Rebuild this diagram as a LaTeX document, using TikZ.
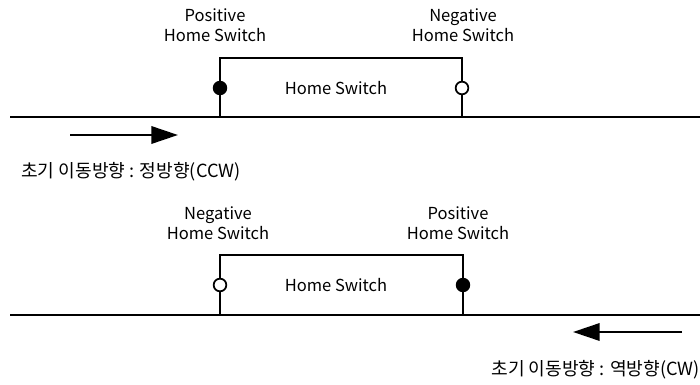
\documentclass[tikz,border=0pt]{standalone}
\usepackage{fontspec}
\setmainfont{Noto Sans CJK KR}
\usetikzlibrary{positioning, arrows.meta}

\begin{document}
\begin{tikzpicture}[x=0.75pt, y=-0.75pt,
  line/.style={line width=1.8pt},
  lbl/.style={align=center, font=\fontsize{12.4}{15}\selectfont, inner sep=0pt},
  dir/.style={font=\fontsize{13.6}{15}\selectfont, inner sep=0pt},
  on/.style={circle, draw, fill=black, line width=1.3pt, minimum size=9.5pt, inner sep=0pt},
  off/.style={circle, draw, fill=white, line width=1.3pt, minimum size=9.5pt, inner sep=0pt},
  arr/.style={line width=1.8pt, -{Triangle[length=20pt, width=13pt]}}]
\useasboundingbox (0,0) rectangle (700,385);
% upper: CCW
\coordinate (l1) at (10,117);
\coordinate (r1) at (700,117);
\coordinate (a1) at (220,117);
\coordinate (b1) at (462,117);
\draw[line] (l1) -- (r1);
\draw[line] (a1) -- (220,58) -- (462,58) -- (b1);
\node[on] (p1) at (220,88) {};
\node[off] (n1) at (462,88) {};
\node[lbl] (h1) at (336,88) {Home Switch};
\node[lbl] (pl1) at (215,25) {Positive\\Home Switch};
\node[lbl] (nl1) at (463,25) {Negative\\Home Switch};
\coordinate (s1) at (70,135);
\coordinate (e1) at (178,135);
\draw[arr] (s1) -- (e1);
\node[dir, anchor=west] (t1) at (21,172) {초기 이동방향 : 정방향(CCW)};
% lower: CW
\coordinate (l2) at (10,315);
\coordinate (r2) at (700,315);
\coordinate (a2) at (220,315);
\coordinate (b2) at (463,315);
\draw[line] (l2) -- (r2);
\draw[line] (a2) -- (220,255) -- (463,255) -- (b2);
\node[off] (n2) at (220,285) {};
\node[on] (p2) at (463,285) {};
\node[lbl] (h2) at (336,285) {Home Switch};
\node[lbl] (nl2) at (218,223) {Negative\\Home Switch};
\node[lbl] (pl2) at (458,223) {Positive\\Home Switch};
\coordinate (s2) at (682,332);
\coordinate (e2) at (573,332);
\draw[arr] (s2) -- (e2);
\node[dir, anchor=east] (t2) at (700,370) {초기 이동방향 : 역방향(CW)};
\end{tikzpicture}
\end{document}
